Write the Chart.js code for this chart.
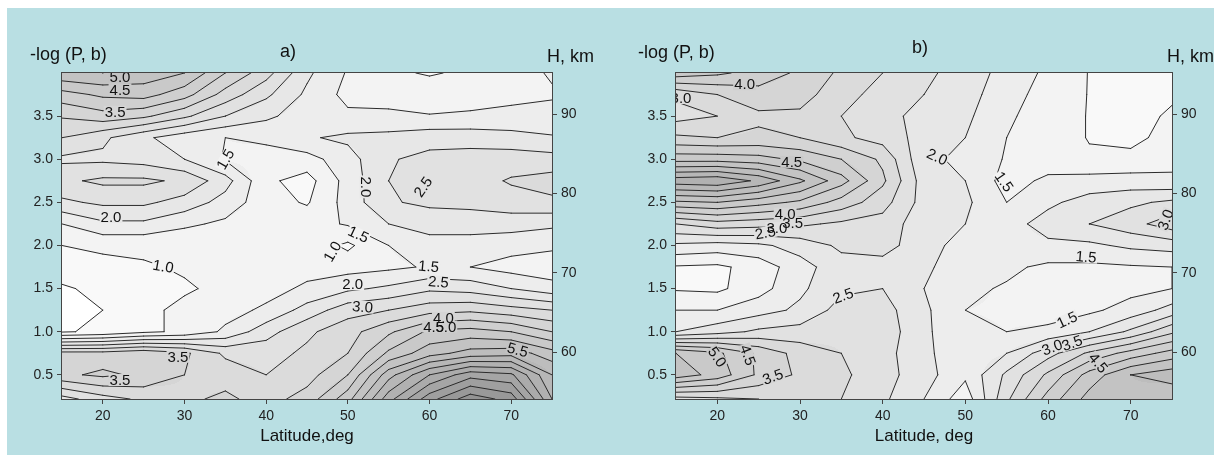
<!DOCTYPE html>
<html>
<head>
<meta charset="utf-8">
<script src="https://cdn.jsdelivr.net/npm/chart.js@4.4.1/dist/chart.umd.min.js"></script>
<style>
  body { margin: 0; background: #fff; width: 1224px; height: 461px; overflow: hidden; }
  #fig { position: absolute; left: 7px; top: 8px; width: 1207px; height: 447px; background: #b9dfe3; overflow: hidden; }
  .panel { position: absolute; top: 0; height: 447px; }
  #wa { left: 0; width: 605px; }
  #wb { left: 605px; width: 602px; }
</style>
</head>
<body>
<div id="fig">
  <div class="panel" id="wa"><canvas id="chartA"></canvas></div>
  <div class="panel" id="wb"><canvas id="chartB"></canvas></div>
</div>
<script>
"use strict";

// grid of the field: latitude (deg) x -log(P, b)
const latitude = [15, 20, 25, 30, 35, 40, 45, 50, 55, 60, 65, 70, 75];
const logP = [4.0, 3.75, 3.5, 3.25, 3.0, 2.75, 2.5, 2.25, 2.0, 1.75, 1.5, 1.25, 1.0, 0.75, 0.5, 0.22];

const latTicks = [20, 30, 40, 50, 60, 70];
const logPTicks = [0.5, 1.0, 1.5, 2.0, 2.5, 3.0, 3.5];
const heightTicks = [60, 70, 80, 90];
const contourLevels = [0.5, 1.0, 1.5, 2.0, 2.5, 3.0, 3.5, 4.0, 4.5, 5.0, 5.5, 6.0, 6.5, 7.0, 7.5, 8.0, 8.5, 9.0, 9.5];

// panel a) one row per logP value, one column per latitude
const fieldA = [
  [5.4, 5.5, 5.3, 5.0, 4.0, 3.2, 2.1, 1.45, 1.1, 0.95, 1.1, 1.3, 1.55],
  [4.3, 4.6, 4.7, 4.2, 3.3, 2.6, 1.9, 1.35, 1.3, 1.3, 1.35, 1.4, 1.45],
  [3.55, 3.8, 3.6, 3.1, 2.5, 2.1, 1.75, 1.6, 1.6, 1.52, 1.55, 1.6, 1.65],
  [3.0, 2.6, 2.1, 1.7, 1.5, 1.6, 1.95, 2.1, 2.15, 2.3, 2.3, 2.2, 2.05],
  [2.4, 2.4, 2.3, 2.0, 1.45, 1.3, 1.3, 1.8, 2.45, 2.65, 2.7, 2.75, 2.7],
  [2.9, 3.1, 3.1, 2.9, 2.2, 1.1, 0.8, 1.7, 2.5, 2.7, 2.8, 3.05, 3.2],
  [2.4, 2.6, 2.6, 2.3, 1.8, 1.2, 0.95, 1.7, 2.45, 2.6, 2.65, 2.8, 2.9],
  [1.5, 1.9, 1.9, 1.6, 1.4, 1.2, 1.3, 1.55, 2.0, 2.2, 2.2, 2.2, 2.1],
  [1.0, 1.1, 1.1, 1.1, 1.3, 1.3, 1.3, 0.9, 1.5, 1.8, 1.8, 1.7, 1.6],
  [0.7, 0.85, 0.95, 1.05, 1.2, 1.25, 1.3, 1.3, 1.4, 1.55, 1.5, 1.3, 1.2],
  [0.45, 0.6, 0.85, 0.95, 1.1, 1.3, 1.6, 1.9, 2.1, 2.4, 2.3, 2.0, 1.7],
  [0.35, 0.5, 0.9, 1.1, 1.3, 1.6, 2.2, 2.8, 3.0, 3.3, 3.4, 3.2, 3.0],
  [0.45, 0.6, 0.9, 1.1, 1.6, 2.3, 2.9, 3.3, 3.9, 4.6, 4.7, 4.5, 4.0],
  [3.7, 3.7, 3.9, 3.6, 2.9, 2.8, 3.1, 3.5, 4.6, 5.3, 5.7, 5.8, 5.2],
  [3.9, 4.1, 3.9, 3.5, 3.3, 3.0, 3.3, 4.0, 5.8, 7.0, 7.8, 7.6, 6.0],
  [2.3, 2.8, 3.1, 3.4, 3.6, 3.3, 3.7, 4.8, 6.8, 8.3, 9.3, 8.8, 6.5]
];

// panel b)
const fieldB = [
  [4.8, 4.6, 4.3, 3.9, 3.4, 3.0, 2.6, 2.3, 1.8, 1.4, 0.98, 0.75, 0.8],
  [3.1, 3.5, 3.8, 3.7, 3.2, 2.8, 2.5, 2.2, 1.7, 1.3, 0.98, 0.7, 0.9],
  [2.8, 3.0, 3.4, 3.4, 3.0, 2.6, 2.4, 2.1, 1.6, 1.2, 0.98, 0.75, 1.1],
  [3.6, 3.5, 3.6, 3.5, 3.1, 2.8, 2.3, 2.0, 1.5, 1.2, 0.98, 0.85, 1.2],
  [4.8, 4.8, 4.7, 4.4, 4.0, 3.4, 2.1, 1.9, 1.45, 1.25, 1.05, 1.15, 1.35],
  [6.8, 6.9, 6.4, 5.6, 4.7, 3.6, 2.25, 2.0, 1.3, 1.6, 1.7, 1.7, 1.6],
  [4.9, 5.0, 4.7, 4.4, 3.8, 3.2, 2.3, 2.1, 1.5, 1.9, 2.2, 2.4, 2.6],
  [3.0, 3.3, 3.2, 3.1, 2.9, 2.8, 2.2, 2.0, 1.8, 2.2, 2.5, 2.8, 3.3],
  [1.9, 1.8, 1.9, 2.2, 2.6, 2.7, 2.2, 1.8, 1.9, 1.9, 1.9, 2.1, 2.2],
  [0.95, 0.9, 1.2, 1.8, 2.3, 2.3, 2.1, 1.7, 1.6, 1.4, 1.4, 1.45, 1.5],
  [0.95, 0.9, 1.3, 1.9, 2.4, 2.5, 2.0, 1.6, 1.45, 1.3, 1.3, 1.35, 1.5],
  [1.5, 1.5, 1.8, 2.1, 2.7, 2.7, 2.1, 1.5, 1.45, 1.3, 1.4, 1.7, 2.2],
  [2.0, 2.3, 2.6, 2.7, 2.9, 2.8, 2.1, 1.6, 1.5, 1.6, 2.0, 2.6, 3.4],
  [5.0, 4.6, 3.9, 3.3, 3.0, 2.7, 2.1, 1.7, 2.0, 2.8, 3.6, 4.2, 4.7],
  [5.3, 4.8, 3.9, 3.4, 3.1, 2.7, 2.2, 1.6, 2.6, 3.6, 4.7, 5.5, 5.8],
  [2.8, 2.9, 3.0, 3.1, 3.0, 2.6, 2.0, 1.2, 2.9, 4.2, 5.2, 5.4, 5.0]
];

// contour labels: latitude, logP, text, angle (deg)
const labelsA = [
  [22.1, 3.95, "5.0", 0], [22.1, 3.81, "4.5", 0], [21.5, 3.55, "3.5", 0],
  [35.0, 3.0, "1.5", -60], [21.0, 2.33, "2.0", 0], [52.2, 2.68, "2.0", 90],
  [59.2, 2.68, "2.5", -55], [51.3, 2.13, "1.5", 25], [48.1, 1.93, "1.0", -60],
  [27.4, 1.76, "1.0", 10], [59.9, 1.76, "1.5", 5], [61.1, 1.58, "2.5", 5],
  [50.6, 1.55, "2.0", 0], [51.8, 1.29, "3.0", 5], [61.7, 1.16, "4.0", 0],
  [60.5, 1.06, "4.5", 0], [62.0, 1.06, "5.0", 0], [70.8, 0.79, "5.5", 15],
  [29.2, 0.71, "3.5", 0], [22.1, 0.44, "3.5", 0]
];
const labelsB = [
  [23.3, 3.87, "4.0", 0], [15.6, 3.71, "3.0", 0], [29.0, 2.97, "4.5", 0],
  [28.2, 2.37, "4.0", 0], [29.1, 2.26, "3.5", 0], [27.2, 2.20, "3.0", 0],
  [25.8, 2.15, "2.5", -10], [46.6, 3.03, "2.0", 25], [54.7, 2.74, "1.5", 55],
  [74.2, 2.30, "3.0", -70], [35.2, 1.42, "2.5", -20], [20.0, 0.71, "5.0", 55],
  [23.7, 0.73, "4.5", 70], [26.7, 0.48, "3.5", -20], [64.6, 1.87, "1.5", 5],
  [62.3, 1.14, "1.5", -25], [60.5, 0.82, "3.0", -20], [62.9, 0.87, "3.5", -20],
  [66.1, 0.64, "4.5", 50]
];

const FONT = "'Liberation Sans', Arial, sans-serif";
Chart.defaults.font.family = FONT;

function sample(field, la, lp) {
  let i = 0;
  while (i < latitude.length - 2 && latitude[i + 1] <= la) i++;
  let j = 0;
  while (j < logP.length - 2 && logP[j + 1] >= lp) j++;
  const tx = Math.min(1, Math.max(0, (la - latitude[i]) / (latitude[i + 1] - latitude[i])));
  const ty = Math.min(1, Math.max(0, (logP[j] - lp) / (logP[j] - logP[j + 1])));
  const top = field[j][i] * (1 - tx) + field[j][i + 1] * tx;
  const bot = field[j + 1][i] * (1 - tx) + field[j + 1][i + 1] * tx;
  return top * (1 - ty) + bot * ty;
}

function shade(v) {
  const k = Math.floor(v / 0.5);
  return Math.max(120, 255 - 6 * k);
}

function cellSegments(field, i, j, L) {
  const pts = [
    [latitude[i], logP[j], field[j][i]],
    [latitude[i + 1], logP[j], field[j][i + 1]],
    [latitude[i + 1], logP[j + 1], field[j + 1][i + 1]],
    [latitude[i], logP[j + 1], field[j + 1][i]]
  ];
  const cross = [];
  for (let e = 0; e < 4; e++) {
    const a = pts[e], b = pts[(e + 1) % 4];
    if ((a[2] >= L) !== (b[2] >= L)) {
      const t = (L - a[2]) / (b[2] - a[2]);
      cross.push({ e: e, x: a[0] + t * (b[0] - a[0]), y: a[1] + t * (b[1] - a[1]) });
    } else {
      cross.push(null);
    }
  }
  const found = cross.filter(c => c);
  if (found.length === 2) return [[found[0], found[1]]];
  if (found.length === 4) {
    const centre = (pts[0][2] + pts[1][2] + pts[2][2] + pts[3][2]) / 4;
    if ((centre >= L) === (pts[0][2] >= L)) {
      return [[cross[0], cross[1]], [cross[2], cross[3]]];
    }
    return [[cross[0], cross[3]], [cross[1], cross[2]]];
  }
  return [];
}

function contourPlugin(field, labels, head) {
  return {
    id: "contour",
    beforeDatasetsDraw(chart) {
      const ctx = chart.ctx;
      const xs = chart.scales.x, ys = chart.scales.y;
      const area = chart.chartArea;
      const w = Math.round(area.right - area.left), h = Math.round(area.bottom - area.top);

      // filled field
      const off = document.createElement("canvas");
      off.width = w; off.height = h;
      const octx = off.getContext("2d");
      const img = octx.createImageData(w, h);
      for (let py = 0; py < h; py++) {
        const lp = ys.getValueForPixel(area.top + py + 0.5);
        for (let px = 0; px < w; px++) {
          const la = xs.getValueForPixel(area.left + px + 0.5);
          const g = shade(sample(field, la, lp));
          const k = (py * w + px) * 4;
          img.data[k] = g; img.data[k + 1] = g; img.data[k + 2] = g; img.data[k + 3] = 255;
        }
      }
      octx.putImageData(img, 0, 0);
      ctx.drawImage(off, area.left, area.top, w, h);

      // contour lines
      ctx.save();
      ctx.beginPath();
      ctx.rect(area.left, area.top, area.right - area.left, area.bottom - area.top);
      ctx.clip();
      ctx.strokeStyle = "#2b2b2b";
      ctx.lineWidth = 1;
      ctx.lineJoin = "round";
      ctx.lineCap = "round";
      contourLevels.forEach(L => {
        ctx.beginPath();
        for (let j = 0; j < logP.length - 1; j++) {
          for (let i = 0; i < latitude.length - 1; i++) {
            cellSegments(field, i, j, L).forEach(s => {
              ctx.moveTo(xs.getPixelForValue(s[0].x), ys.getPixelForValue(s[0].y));
              ctx.lineTo(xs.getPixelForValue(s[1].x), ys.getPixelForValue(s[1].y));
            });
          }
        }
        ctx.stroke();
      });

      // labels on the lines
      ctx.font = "15px " + FONT;
      ctx.textAlign = "center";
      ctx.textBaseline = "middle";
      labels.forEach(l => {
        const g = shade(sample(field, l[0], l[1]));
        const tw = ctx.measureText(l[2]).width;
        ctx.save();
        ctx.translate(xs.getPixelForValue(l[0]), ys.getPixelForValue(l[1]));
        ctx.rotate(l[3] * Math.PI / 180);
        ctx.fillStyle = "rgb(" + g + "," + g + "," + g + ")";
        ctx.fillRect(-tw / 2 - 1, -6, tw + 2, 12);
        ctx.restore();
      });
      ctx.fillStyle = "#111";
      labels.forEach(l => {
        ctx.save();
        ctx.translate(xs.getPixelForValue(l[0]), ys.getPixelForValue(l[1]));
        ctx.rotate(l[3] * Math.PI / 180);
        ctx.fillText(l[2], 0, 1);
        ctx.restore();
      });
      ctx.restore();
    },
    afterDraw(chart) {
      const ctx = chart.ctx;
      const area = chart.chartArea;
      ctx.save();
      ctx.strokeStyle = "#444";
      ctx.lineWidth = 1;
      ctx.strokeRect(area.left - 0.5, area.top - 0.5, area.right - area.left + 1, area.bottom - area.top + 1);
      ctx.fillStyle = "#111";
      ctx.textBaseline = "alphabetic";
      ctx.textAlign = "left";
      ctx.font = "18px " + FONT;
      ctx.fillText("-log (P, b)", area.left + head.logX, area.top + head.logY);
      ctx.fillText(head.tag, area.left + head.tagX, area.top + head.tagY);
      ctx.fillText("H, km", area.right + head.hX, area.top + head.hY);
      ctx.restore();
    }
  };
}

function tickOpts(cb) {
  return {
    font: { family: FONT, size: 14 },
    color: "#222",
    padding: 4,
    autoSkip: false,
    maxRotation: 0,
    callback: cb
  };
}

const gridOpts = { drawOnChartArea: false, drawTicks: true, tickLength: 5, color: "#444" };

function makeChart(id, field, labels, xTitle, sizes, head) {
  return new Chart(document.getElementById(id), {
    type: "scatter",
    data: { datasets: [] },
    options: {
      responsive: true,
      maintainAspectRatio: false,
      animation: false,
      layout: { padding: { left: 0, right: sizes.padRight, top: 65, bottom: 8 } },
      plugins: { legend: { display: false }, tooltip: { enabled: false } },
      scales: {
        x: {
          type: "linear", position: "bottom", min: 15, max: 75,
          afterBuildTicks: s => { s.ticks = latTicks.map(v => ({ value: v })); },
          afterFit: s => { s.height = 48; },
          grid: gridOpts,
          border: { display: true, color: "#444" },
          ticks: tickOpts(v => String(v)),
          title: { display: true, text: xTitle, color: "#111", font: { family: FONT, size: 17 }, padding: 0 }
        },
        y: {
          type: "linear", position: "left", min: 0.22, max: 4.0,
          afterBuildTicks: s => { s.ticks = logPTicks.map(v => ({ value: v })); },
          afterFit: s => { s.width = sizes.left; },
          grid: gridOpts,
          border: { display: true, color: "#444" },
          ticks: tickOpts(v => Number(v).toFixed(1))
        },
        y2: {
          type: "linear", position: "right", min: 54.1, max: 95.2,
          afterBuildTicks: s => { s.ticks = heightTicks.map(v => ({ value: v })); },
          afterFit: s => { s.width = sizes.right; },
          grid: gridOpts,
          border: { display: true, color: "#444" },
          ticks: tickOpts(v => String(v))
        }
      }
    },
    plugins: [contourPlugin(field, labels, head)]
  });
}

makeChart("chartA", fieldA, labelsA, "Latitude,deg",
  { left: 55, right: 50, padRight: 10 },
  { logX: -32, logY: -13, tag: "a)", tagX: 218, tagY: -16, hX: -5, hY: -11 });
makeChart("chartB", fieldB, labelsB, "Latitude, deg",
  { left: 64, right: 42, padRight: 0 },
  { logX: -38, logY: -15, tag: "b)", tagX: 236, tagY: -20, hX: -5, hY: -11 });
</script>
</body>
</html>
